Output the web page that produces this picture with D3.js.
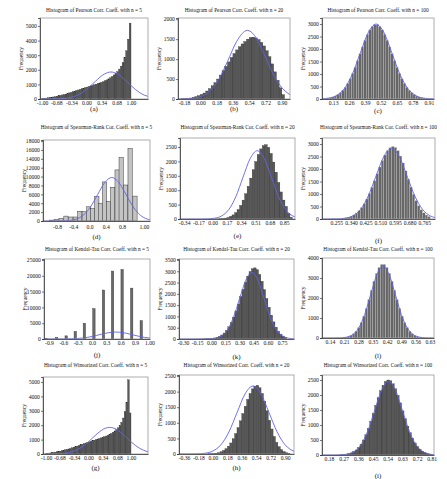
<!DOCTYPE html>
<html><head><meta charset="utf-8">
<script src="https://cdn.jsdelivr.net/npm/d3@7"></script>
<style>body{margin:0;background:#fff}svg{display:block}</style>
</head><body><svg id="c" width="447" height="479"></svg>
<script>
// ================= DATA =================
// (a) Pearson n = 5
const aTitle = "Histogram of Pearson Corr. Coeff. with n = 5";
const aBinStart = -1.0, aBinWidth = 0.04;
const aCounts = [20,40,60,80,100,120,140,160,190,220,250,280,310,340,380,420,460,500,540,580,620,660,700,740,780,820,860,900,940,980,1020,1060,1100,1140,1190,1250,1310,1380,1460,1550,1650,1750,1880,2050,2250,2500,2850,3300,4100,5200];
const aCurveX = [-1.04,-0.8,-0.6,-0.4,-0.2,0,0.2,0.4,0.55,0.7,0.9,1.1,1.3,1.38];
const aCurveY = [0,3,19,81,263,649,1211,1711,1850,1711,1211,649,263,180];
const aXTicks = [-1,-0.68,-0.34,0,0.34,0.68,1];
const aXLabels = ["-1.00","-0.68","-0.34","0.00","0.34","0.68","1.00"];
const aYTicks = [0,1000,2000,3000,4000,5000];

// (b) Pearson n = 20
const bTitle = "Histogram of Pearson Corr. Coeff. with n = 20";
const bBinStart = -0.21, bBinWidth = 0.03;
const bCounts = [5,10,15,25,40,60,85,115,150,200,260,330,410,500,600,710,820,930,1040,1140,1230,1310,1380,1440,1500,1540,1550,1530,1490,1420,1330,1210,1060,880,680,470,280,110];
const bCurveX = [-0.246,-0.18,-0.1,0,0.1,0.2,0.3,0.4,0.52,0.6,0.7,0.8,0.9,0.99];
const bCurveY = [1,4,14,59,190,478,939,1437,1720,1588,1147,645,283,108];
const bXTicks = [-0.18,0,0.18,0.36,0.54,0.72,0.90];
const bXLabels = ["-0.18","0.00","0.18","0.36","0.54","0.72","0.90"];
const bYTicks = [0,500,1000,1500,2000];

// (c) Pearson n = 100
const cTitle = "Histogram of Pearson Corr. Coeff. with n = 100";
const cBinStart = 0.08, cBinWidth = 0.02;
const cCounts = [33,52,80,119,174,247,344,468,623,808,1024,1267,1531,1808,2083,2345,2578,2767,2901,2971,2971,2901,2767,2578,2345,2083,1808,1531,1267,1024,808,623,468,344,247,174,119,80,52,33];
const cCurveX = [0.04,0.09,0.155,0.22,0.285,0.35,0.415,0.48,0.545,0.61,0.675,0.74,0.805,0.87,0.95];
const cCurveY = [10,33,132,405,975,1821,2646,3000,2646,1821,975,405,132,33,5];
const cXTicks = [0.13,0.26,0.39,0.52,0.65,0.78,0.91];
const cXLabels = ["0.13","0.26","0.39","0.52","0.65","0.78","0.91"];
const cYTicks = [0,500,1000,1500,2000,2500,3000];

// (d) Spearman n = 5
const dTitle = "Histogram of Spearman-Rank Cor. Coeff. with n = 5";
const dCenters = [-0.94,-0.82,-0.70,-0.58,-0.46,-0.35,-0.24,-0.13,-0.02,0.08,0.18,0.27,0.37,0.47,0.57,0.68,0.78,0.89,1.00,1.12];
const dBarWidth = 0.105;
const dCounts = [200,400,600,1100,900,900,2200,2100,3200,2800,5500,4000,8800,4400,7600,11500,14300,8100,16300,5600];
const dCurveX = [-1.14,-0.85,-0.675,-0.5,-0.325,-0.15,0.025,0.2,0.375,0.55,0.725,0.9,1.075,1.25,1.425,1.49];
const dCurveY = [0,3,22,109,431,1323,3185,5948,8644,9800,8644,5948,3185,1323,431,250];
const dXTicks = [-0.8,-0.4,0,0.4,0.8,1.34];
const dXLabels = ["-0.8","-0.4","0.0","0.4","0.8","1.00"];
const dYTicks = [0,2000,4000,6000,8000,10000,12000,14000,16000,18000];

// (e) Spearman n = 20
const eTitle = "Histogram of Spearman-Rank Cor. Coeff. with n = 20";
const eBinStart = -0.1, eBinWidth = 0.03;
const eCounts = [0,0,1,1,3,5,10,18,31,54,90,143,220,329,472,656,876,1136,1419,1711,1993,2240,2433,2549,2580,2488,2277,1976,1625,1267,939,657,436,200,60];
const eCurveX = [-0.389,-0.15,-0.065,0.02,0.105,0.19,0.275,0.36,0.445,0.53,0.615,0.70,0.785,0.87,0.955,0.98];
const eCurveY = [0,1,5,26,104,320,770,1439,2090,2370,2090,1439,770,320,104,75];
const eXTicks = [-0.34,-0.17,0,0.17,0.34,0.51,0.68,0.85];
const eXLabels = ["-0.34","-0.17","0.00","0.17","0.34","0.51","0.68","0.85"];
const eYTicks = [0,500,1000,1500,2000,2500];

// (f) Spearman n = 100
const fTitle = "Histogram of Spearman-Rank Cor. Coeff. with n = 100";
const fBinStart = 0.29, fBinWidth = 0.015;
const fCounts = [30,48,74,112,164,238,334,458,613,800,1018,1263,1529,1805,2079,2336,2559,2735,2851,2900,2865,2734,2518,2240,1923,1595,1276,985,736,530,369,247,160,101];
const fCurveX = [0.172,0.26,0.305,0.35,0.395,0.44,0.485,0.53,0.575,0.62,0.665,0.71,0.755,0.80,0.827];
const fCurveY = [0,6,31,125,382,920,1718,2496,2830,2496,1718,920,382,125,56];
const fXTicks = [0.255,0.340,0.425,0.510,0.595,0.680,0.765];
const fXLabels = ["0.255","0.340","0.425","0.510","0.595","0.680","0.765"];
const fYTicks = [0,500,1000,1500,2000,2500,3000];

// (j) Kendall n = 5
const jTitle = "Histogram of Kendal-Tau Corr. Coeff. with n = 5";
const jCenters = [-0.96,-0.74,-0.54,-0.35,-0.16,0.04,0.24,0.43,0.63,0.83,1.03];
const jBarWidth = 0.05;
const jCounts = [150,500,1000,2400,5000,9600,15500,21500,22000,16100,5800];
const jCurveX = [-1.0,-0.6,-0.4,-0.2,0.0,0.2,0.35,0.5,0.65,0.8,1.0,1.2,1.213];
const jCurveY = [0,16,81,298,792,1524,2006,2200,2006,1524,792,298,280];
const jXTicks = [-0.9,-0.6,-0.3,0,0.3,0.6,0.9,1.2];
const jXLabels = ["-0.9","-0.6","-0.3","0.0","0.3","0.6","0.9","1.00"];
const jYTicks = [0,5000,10000,15000,20000,25000];

// (k) Kendall n = 20
const kTitle = "Histogram of Kendal-Tau Corr. Coeff. with n = 20";
const kBinStart = -0.15, kBinWidth = 0.025;
const kCounts = [0,1,3,5,9,15,27,45,73,116,178,265,383,538,733,969,1244,1550,1876,2204,2513,2780,2986,3112,3150,3068,2863,2557,2187,1792,1405,1055,758,522,344,217,131,76];
const kCurveX = [-0.343,-0.09,-0.025,0.04,0.105,0.17,0.235,0.30,0.365,0.43,0.495,0.56,0.625,0.69,0.755,0.82,0.877];
const kCurveY = [0,1,6,33,130,399,959,1791,2602,2950,2602,1791,959,399,130,33,8];
const kXTicks = [-0.30,-0.15,0,0.15,0.30,0.45,0.60,0.75];
const kXLabels = ["-0.30","-0.15","0.00","0.15","0.30","0.45","0.60","0.75"];
const kYTicks = [0,500,1000,1500,2000,2500,3000,3500];

// (l) Kendall n = 100
const lTitle = "Histogram of Kendal-Tau Corr. Coeff. with n = 100";
const lBinStart = 0.2, lBinWidth = 0.0125;
const lCounts = [20,39,71,125,210,338,522,771,1092,1478,1920,2385,2836,3231,3524,3680,3680,3524,3231,2836,2385,1920,1478,1092,771,522,338,210,125,71,39,20];
const lCurveX = [0.101,0.16,0.19,0.22,0.25,0.28,0.31,0.34,0.37,0.40,0.43,0.46,0.49,0.52,0.55,0.58,0.61,0.65];
const lCurveY = [0,1,8,40,158,487,1170,2185,3175,3600,3175,2185,1170,487,158,40,8,0];
const lXTicks = [0.14,0.21,0.28,0.35,0.42,0.49,0.56,0.63];
const lXLabels = ["0.14","0.21","0.28","0.35","0.42","0.49","0.56","0.63"];
const lYTicks = [0,1000,2000,3000,4000];

// (g) Winsorized n = 5
const gTitle = "Histogram of Winsorized Corr. Coeff. with n = 5";
const gBinStart = -1.0, gBinWidth = 0.04;
const gCounts = [30,50,70,90,110,130,150,175,200,230,260,290,320,350,390,430,470,510,550,590,640,680,720,760,800,840,880,920,960,1000,1040,1080,1120,1160,1200,1250,1300,1360,1430,1510,1600,1700,1820,1980,2200,2500,2950,3600,5150,2850];
const gCurveX = [-1.07,-0.8,-0.6,-0.4,-0.2,0,0.2,0.4,0.5,0.6,0.8,1.0,1.2,1.4];
const gCurveY = [1,9,42,147,400,847,1397,1793,1850,1793,1397,847,400,147];
const gXTicks = [-1,-0.68,-0.34,0,0.34,0.68,1];
const gXLabels = ["-1.00","-0.68","-0.34","0.00","0.34","0.68","1.00"];
const gYTicks = [0,1000,2000,3000,4000,5000];

// (h) Winsorized n = 20
const hTitle = "Histogram of Winsorized Corr. Coeff. with n = 20";
const hBinStart = -0.09, hBinWidth = 0.03;
const hCounts = [3,5,9,16,27,44,72,112,170,249,354,488,653,847,1063,1295,1529,1750,1941,2088,2176,2200,2121,1941,1685,1386,1080,801,561,372,235,141,79,43,22];
const hCurveX = [-0.423,-0.2,-0.1,0.0,0.1,0.2,0.3,0.4,0.5,0.6,0.7,0.8,0.9,1.011];
const hCurveY = [0,5,24,96,295,709,1323,1923,2180,1923,1323,709,295,85];
const hXTicks = [-0.36,-0.18,0,0.18,0.36,0.54,0.72,0.90];
const hXLabels = ["-0.36","-0.18","0.00","0.18","0.36","0.54","0.72","0.90"];
const hYTicks = [0,500,1000,1500,2000,2500];

// (i) Winsorized n = 100
const iTitle = "Histogram of Winsorized Corr. Coeff. with n = 100";
const iBinStart = 0.25, iBinWidth = 0.015;
const iCounts = [8,15,25,43,70,110,168,250,359,500,676,885,1123,1383,1649,1908,2139,2324,2448,2500,2473,2373,2206,1988,1737,1471,1208,962,742,555,402,282,192,127,81,51,30,18];
const iCurveX = [0.137,0.205,0.2475,0.29,0.3325,0.375,0.4175,0.46,0.5025,0.545,0.5875,0.63,0.6725,0.715,0.7575,0.80,0.824];
const iCurveY = [0,1,5,27,108,331,796,1487,2161,2450,2161,1487,796,331,108,27,11];
const iXTicks = [0.18,0.27,0.36,0.45,0.54,0.63,0.72,0.81];
const iXLabels = ["0.18","0.27","0.36","0.45","0.54","0.63","0.72","0.81"];
const iYTicks = [0,500,1000,1500,2000,2500];

// ================= BUILD =================
const binned = (start, w, counts) => counts.map((v,i)=>({x0:start+i*w, x1:start+(i+1)*w, v}));
const centred = (centers, w, counts) => counts.map((v,i)=>({x0:centers[i]-w/2, x1:centers[i]+w/2, v}));

const DENSE = {fill:"#585858", stroke:"#262626", sw:0.3};
const LIGHT = {fill:"#666", stroke:"#d8d8d8", sw:0.25};
const panels = [
  {cap:"(a)", title:aTitle, bars:binned(aBinStart,aBinWidth,aCounts), cx:aCurveX, cy:aCurveY, xt:aXTicks, xl:aXLabels, yt:aYTicks,
   xDomain:[-1.045,1.382], yMax:5550, box:[40,18,148,99], titleY:12, xlDy:2.5, capY:111, ...DENSE},
  {cap:"(b)", title:bTitle, bars:binned(bBinStart,bBinWidth,bCounts), cx:bCurveX, cy:bCurveY, xt:bXTicks, xl:bXLabels, yt:bYTicks,
   xDomain:[-0.246,0.99], yMax:2030, box:[178,18,290,99], titleY:12, xlDy:2.5, capY:111, ...DENSE},
  {cap:"(c)", title:cTitle, bars:binned(cBinStart,cBinWidth,cCounts), cx:cCurveX, cy:cCurveY, xt:cXTicks, xl:cXLabels, yt:cYTicks,
   xDomain:[0.04,0.951], yMax:3240, box:[322,18,434,99], titleY:12, xlDy:2.5, capY:113, ...LIGHT},
  {cap:"(d)", title:dTitle, bars:centred(dCenters,dBarWidth,dCounts), cx:dCurveX, cy:dCurveY, xt:dXTicks, xl:dXLabels, yt:dYTicks,
   xDomain:[-1.145,1.49], yMax:18240, box:[43,140,150,221], titleY:129, xlDy:4, capY:239, fill:"#c4c4c4", stroke:"#3a3a3a", sw:0.5},
  {cap:"(e)", title:eTitle, bars:binned(eBinStart,eBinWidth,eCounts), cx:eCurveX, cy:eCurveY, xt:eXTicks, xl:eXLabels, yt:eYTicks,
   xDomain:[-0.389,0.98], yMax:2812, box:[180,138,295,219], titleY:129, xlDy:2.5, capY:238, ...DENSE},
  {cap:"(f)", title:fTitle, bars:binned(fBinStart,fBinWidth,fCounts), cx:fCurveX, cy:fCurveY, xt:fXTicks, xl:fXLabels, yt:fYTicks,
   xDomain:[0.172,0.827], yMax:3240, box:[322,138,435,219], titleY:129, xlDy:2.5, capY:242.5, ...LIGHT},
  {cap:"(j)", title:jTitle, bars:centred(jCenters,jBarWidth,jCounts), cx:jCurveX, cy:jCurveY, xt:jXTicks, xl:jXLabels, yt:jYTicks,
   xDomain:[-1.004,1.213], yMax:25316, box:[44,259,150,339], titleY:250.5, xlDy:2.5, capY:357, fill:"#6a6a6a", stroke:"#333", sw:0.4},
  {cap:"(k)", title:kTitle, bars:binned(kBinStart,kBinWidth,kCounts), cx:kCurveX, cy:kCurveY, xt:kXTicks, xl:kXLabels, yt:kYTicks,
   xDomain:[-0.343,0.877], yMax:3544, box:[179,259,294,339], titleY:250.5, xlDy:2.5, capY:359, ...DENSE},
  {cap:"(l)", title:lTitle, bars:binned(lBinStart,lBinWidth,lCounts), cx:lCurveX, cy:lCurveY, xt:lXTicks, xl:lXLabels, yt:lYTicks,
   xDomain:[0.101,0.65], yMax:4000, box:[322,258,434,338], titleY:250.5, xlDy:2.5, capY:358, ...LIGHT},
  {cap:"(g)", title:gTitle, bars:binned(gBinStart,gBinWidth,gCounts), cx:gCurveX, cy:gCurveY, xt:gXTicks, xl:gXLabels, yt:gYTicks,
   xDomain:[-1.07,1.40], yMax:5347, box:[43,377,148,454], titleY:367, xlDy:2.5, capY:470, ...DENSE},
  {cap:"(h)", title:hTitle, bars:binned(hBinStart,hBinWidth,hCounts), cx:hCurveX, cy:hCurveY, xt:hXTicks, xl:hXLabels, yt:hYTicks,
   xDomain:[-0.423,1.011], yMax:2532, box:[179,375,294,454], titleY:367, xlDy:2.5, capY:470, ...DENSE},
  {cap:"(i)", title:iTitle, bars:binned(iBinStart,iBinWidth,iCounts), cx:iCurveX, cy:iCurveY, xt:iXTicks, xl:iXLabels, yt:iYTicks,
   xDomain:[0.137,0.824], yMax:2667, box:[322,375,434,455], titleY:367, xlDy:2.5, capY:478, ...DENSE}
];

// ================= DRAW =================
const svg = d3.select("#c");
svg.append("rect").attr("width",447).attr("height",479).attr("fill","#fff");
const FONT = "'Liberation Serif','Times New Roman',serif";

panels.forEach((p, idx) => {
  const [l,t,r,b] = p.box;
  const x = d3.scaleLinear().domain(p.xDomain).range([l,r]);
  const y = d3.scaleLinear().domain([0,p.yMax]).range([b,t]);
  const g = svg.append("g");
  const cid = "clip"+idx;
  svg.append("clipPath").attr("id",cid).append("rect").attr("x",l).attr("y",t).attr("width",r-l).attr("height",b-t);
  const pg = g.append("g").attr("clip-path",`url(#${cid})`);
  pg.selectAll("rect").data(p.bars).join("rect")
    .attr("x", d=>x(d.x0)).attr("width", d=>Math.max(0.6, x(d.x1)-x(d.x0)))
    .attr("y", d=>y(d.v)).attr("height", d=>y(0)-y(d.v))
    .attr("fill", p.fill).attr("stroke", p.stroke).attr("stroke-width", p.sw);
  const line = d3.line().x(d=>x(d[0])).y(d=>y(d[1])).curve(d3.curveMonotoneX);
  pg.append("path").attr("d", line(d3.zip(p.cx,p.cy)))
    .attr("fill","none").attr("stroke","#6262e6").attr("stroke-width",0.9);
  g.append("rect").attr("x",l).attr("y",t).attr("width",r-l).attr("height",b-t)
    .attr("fill","none").attr("stroke","#9a9a9a").attr("stroke-width",0.8);
  // y axis
  const ya = g.append("g").attr("transform",`translate(${l},0)`)
    .call(d3.axisLeft(y).tickValues(p.yt).tickSize(2).tickPadding(1.2).tickFormat(d3.format("d")));
  ya.select(".domain").attr("stroke","#222").attr("stroke-width",0.7);
  ya.selectAll(".tick line").attr("stroke","#222").attr("stroke-width",0.6);
  ya.selectAll("text").attr("font-size",5.6).attr("font-family",FONT).attr("fill","#111");
  // x axis
  const xa = g.append("g").attr("transform",`translate(0,${b})`)
    .call(d3.axisBottom(x).tickValues(p.xt).tickSize(0).tickPadding(p.xlDy).tickFormat((d,i)=>p.xl[i]));
  xa.select(".domain").attr("stroke","#222").attr("stroke-width",0.7);
  xa.selectAll("text").attr("font-size",5.6).attr("font-family",FONT).attr("fill","#111");
  // labels
  g.append("text").attr("x",(l+r)/2).attr("y",p.titleY).attr("text-anchor","middle")
    .attr("font-size",5.3).attr("font-family",FONT).attr("fill","#111").text(p.title);
  g.append("text").attr("transform",`translate(${l-17},${(t+b)/2}) rotate(-90)`).attr("text-anchor","middle")
    .attr("font-size",5.4).attr("font-family",FONT).attr("fill","#111").text("Frequency");
  g.append("text").attr("x",(l+r)/2).attr("y",p.capY).attr("text-anchor","middle")
    .attr("font-size",7).attr("font-family",FONT).attr("fill","#111").text(p.cap);
});
</script></body></html>
